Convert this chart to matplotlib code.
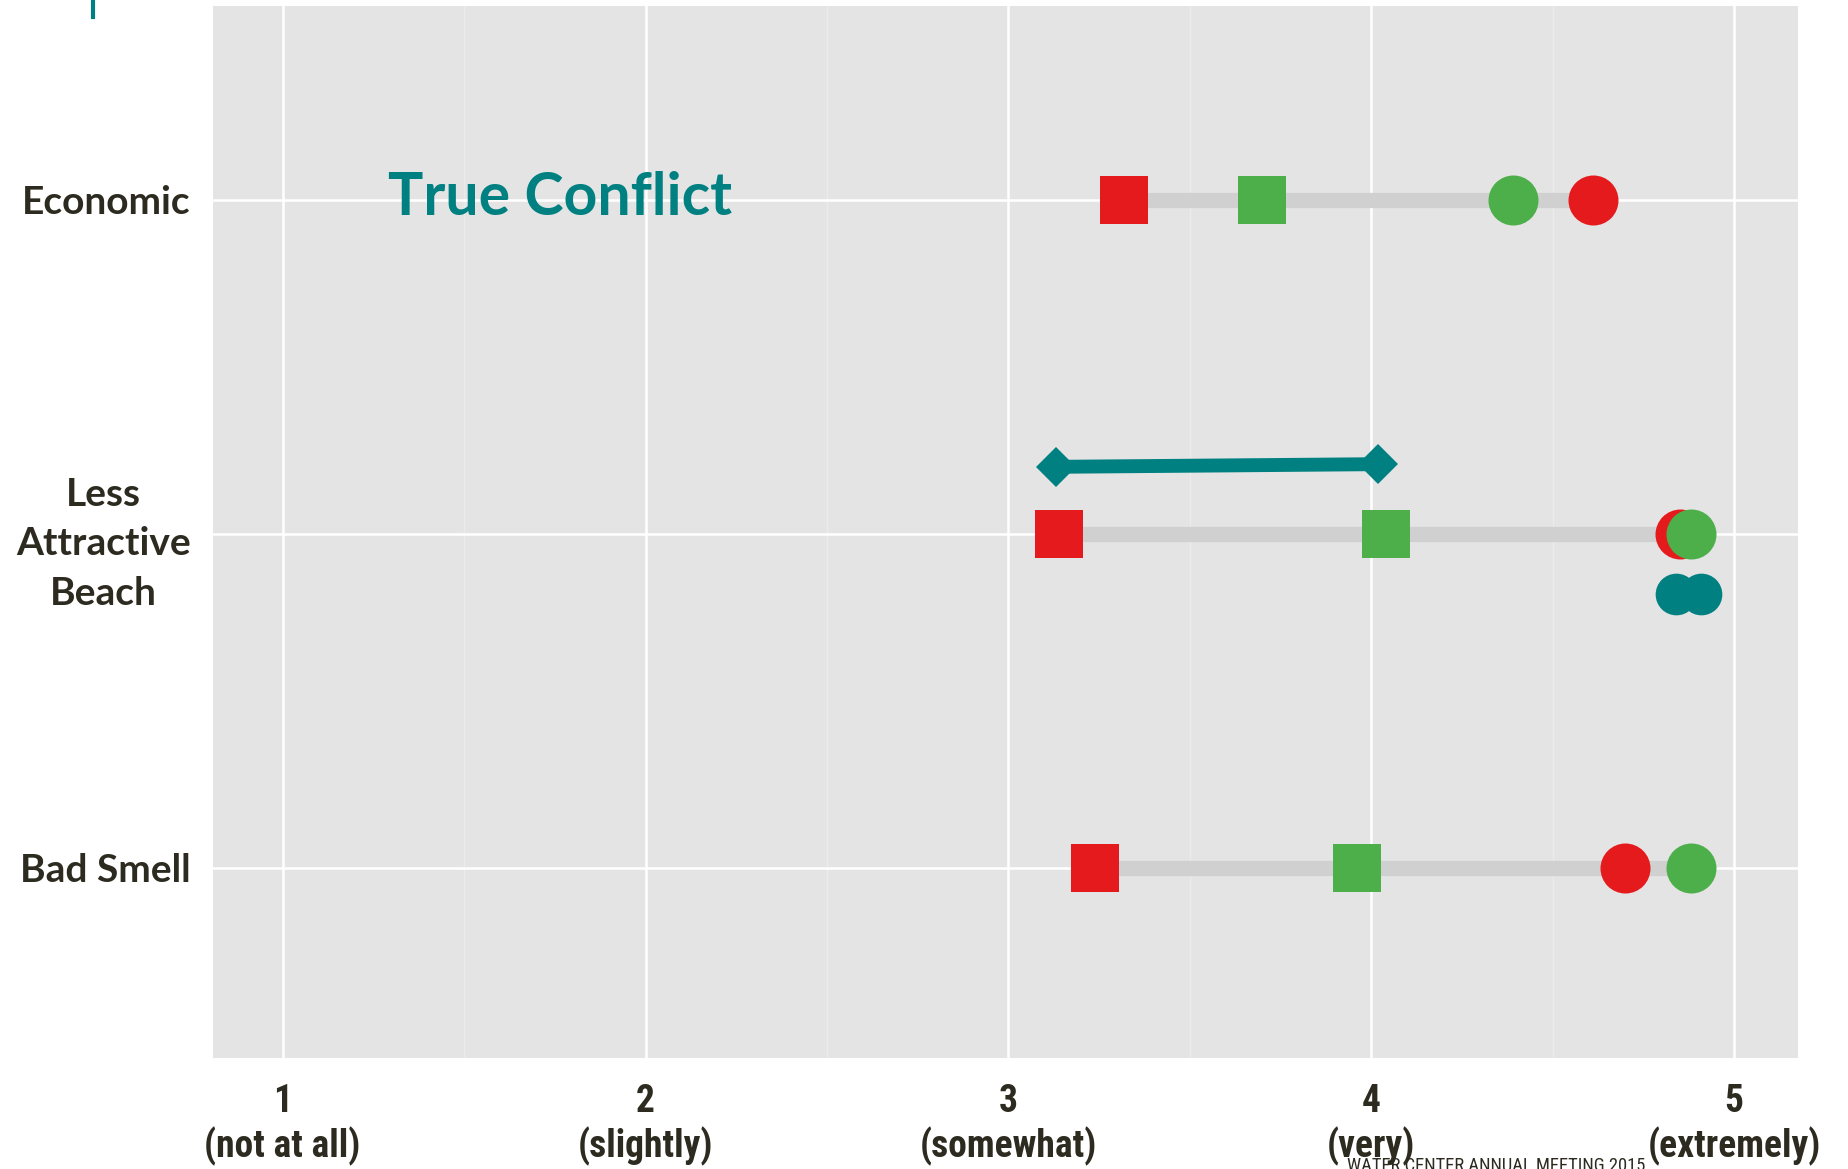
import matplotlib.pyplot as plt
import numpy as np

# categories from bottom to top
categories = ["Bad Smell", "Less\nAttractive\nBeach", "Economic"]
red_square = [3.24, 3.14, 3.32]
green_square = [3.96, 4.04, 3.70]
red_circle = [4.70, 4.85, 4.61]
green_circle = [4.88, 4.88, 4.39]

# extra annotation marks on the middle row
arrow_x = [3.13, 4.02]
arrow_y = [2.2, 2.208]
teal_dots_x = [4.84, 4.91]
teal_dots_y = [1.82, 1.82]

x_ticks = [1, 2, 3, 4, 5]
x_labels = ["1\n(not at all)", "2\n(slightly)", "3\n(somewhat)", "4\n(very)", "5\n(extremely)"]

RED = "#e41a1c"
GREEN = "#4daf4a"
TEAL = "#008080"
DARK = "#2d2a20"
CONDENSED = ["Roboto Condensed", "Roboto", "DejaVu Sans"]

fig = plt.figure(figsize=(18.49, 11.69), dpi=100)
ax = fig.add_axes([0.1152, 0.0950, 0.857, 0.8999])
ax.set_facecolor("#e4e4e4")
for s in ax.spines.values():
    s.set_visible(False)

y = np.arange(1, len(categories) + 1)

# grid
for xv in x_ticks:
    ax.axvline(xv, color="white", lw=1.8, zorder=0)
for xv in [1.5, 2.5, 3.5, 4.5]:
    ax.axvline(xv, color="#ebebeb", lw=1.0, zorder=0)
for yv in y:
    ax.axhline(yv, color="white", lw=1.8, zorder=0)

# dumbbell segments
lo = np.minimum.reduce([red_square, green_square, red_circle, green_circle])
hi = np.maximum.reduce([red_square, green_square, red_circle, green_circle])
ax.hlines(y, lo, hi, color="#d0d0d0", lw=11, zorder=1)

ax.plot(red_square, y, "s", color=RED, ms=34, mew=0, zorder=3)
ax.plot(green_square, y, "s", color=GREEN, ms=34, mew=0, zorder=3)
ax.plot(red_circle, y, "o", color=RED, ms=36, mew=0, zorder=3)
ax.plot(green_circle, y, "o", color=GREEN, ms=36, mew=0, zorder=4)

ax.plot(arrow_x, arrow_y, "-", color=TEAL, lw=10, zorder=3, solid_capstyle="butt")
ax.plot(arrow_x, arrow_y, "D", color=TEAL, ms=20, mew=0, zorder=3)
ax.plot(teal_dots_x, teal_dots_y, "o", color=TEAL, ms=30, mew=0, zorder=3)

ax.text(1.29, 3.005, "True Conflict", color=TEAL, fontsize=42.5, fontweight="bold",
        family=["Lato", "DejaVu Sans"], ha="left", va="center")

ax.set_xlim(0.808, 5.175)
ax.set_ylim(0.43, 3.58)

ax.set_yticks(y)
ax.set_yticklabels(categories, fontsize=28, fontweight="bold", color=DARK,
                   family=["Lato", "DejaVu Sans"], multialignment="center",
                   linespacing=1.5)
ax.set_xticks(x_ticks)
ax.set_xticklabels(x_labels, fontsize=27, fontweight="bold", color=DARK,
                   family=CONDENSED, linespacing=1.22)
ax.tick_params(axis="both", length=0)
ax.tick_params(axis="y", pad=16)
ax.tick_params(axis="x", pad=18)

# footer and decoration
fig.text(1347 / 1849, 1 - 1157 / 1169, "WATER CENTER ANNUAL MEETING 2015", fontsize=13.3,
         color=DARK, family=CONDENSED, ha="left", va="top")
fig.add_artist(plt.Line2D([93 / 1849, 93 / 1849], [1, 1 - 17 / 1169], color=TEAL, lw=3))

fig.savefig("out.png", dpi=100)
